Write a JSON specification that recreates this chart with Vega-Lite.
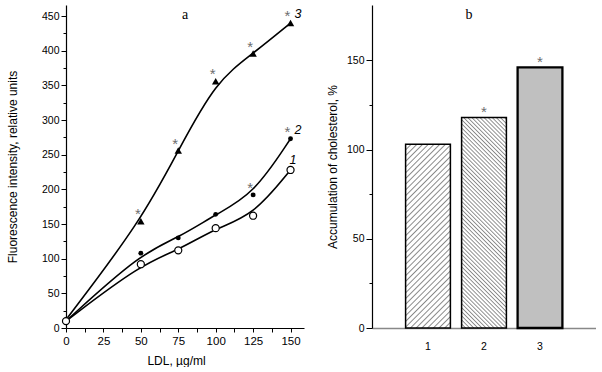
{
  "$schema": "https://vega.github.io/schema/vega-lite/v6.json",
  "autosize": {"type": "pad"},
  "padding": {"left": 6, "top": 5, "right": 0, "bottom": 0},
  "background": "white",
  "config": {
    "view": {"stroke": null},
    "font": "Liberation Sans",
    "axis": {"labelFont": "Liberation Sans", "titleFont": "Liberation Sans", "labelColor": "black", "titleColor": "black", "domainColor": "black", "tickColor": "black", "titleFontWeight": "normal", "titleFontSize": 12, "labelFontSize": 10.5, "grid": false, "domainWidth": 1.2, "tickWidth": 1},
    "title": {"font": "Liberation Serif", "fontSize": 14, "fontWeight": "normal", "color": "black"}
  },
  "datasets": {
    "curves": [
      {"s": "3", "x": 0, "y": 12, "sig": 0},
      {"s": "3", "x": 50, "y": 154, "sig": 1},
      {"s": "3", "x": 75, "y": 256, "sig": 1},
      {"s": "3", "x": 100, "y": 356, "sig": 1},
      {"s": "3", "x": 125, "y": 396, "sig": 1},
      {"s": "3", "x": 150, "y": 440, "sig": 1, "lab": "3"},
      {"s": "2", "x": 0, "y": 10, "sig": 0},
      {"s": "2", "x": 50, "y": 108, "sig": 0},
      {"s": "2", "x": 75, "y": 130, "sig": 0},
      {"s": "2", "x": 100, "y": 164, "sig": 0},
      {"s": "2", "x": 125, "y": 192, "sig": 1},
      {"s": "2", "x": 150, "y": 273, "sig": 1, "lab": "2"},
      {"s": "1", "x": 0, "y": 10, "sig": 0},
      {"s": "1", "x": 50, "y": 92, "sig": 0},
      {"s": "1", "x": 75, "y": 112, "sig": 0},
      {"s": "1", "x": 100, "y": 144, "sig": 0},
      {"s": "1", "x": 125, "y": 162, "sig": 0},
      {"s": "1", "x": 150, "y": 228, "sig": 0, "lab": "1"}
    ],
    "bars": [
      {"g": "1", "v": 103, "sig": 0},
      {"g": "2", "v": 118, "sig": 1},
      {"g": "3", "v": 146, "sig": 1}
    ]
  },
  "bounds": "flush",
  "spacing": 68,
  "hconcat": [
    {
      "width": 238,
      "height": 323,
      "title": {"text": "a", "offset": -17, "frame": "group", "anchor": "middle"},
      "data": {"name": "curves"},
      "encoding": {
        "x": {"field": "x", "type": "quantitative", "scale": {"domain": [0, 159], "nice": false},
          "axis": {"values": [0, 12.5, 25, 37.5, 50, 62.5, 75, 87.5, 100, 112.5, 125, 137.5, 150], "labelExpr": "datum.value % 25 === 0 ? datum.label : ''", "title": "LDL, µg/ml", "titleX": 110, "titlePadding": 9, "labelFontSize": 11.5, "tickSize": 4, "labelPadding": 3, "labelFlush": false, "labelOverlap": false}},
        "y": {"field": "y", "type": "quantitative", "scale": {"domain": [0, 466], "nice": false},
          "axis": {"values": [0, 25, 50, 75, 100, 125, 150, 175, 200, 225, 250, 275, 300, 325, 350, 375, 400, 425, 450], "labelExpr": "datum.value % 50 === 0 ? datum.label : ''", "tickSize": {"condition": {"test": "datum.value % 50 === 0", "value": 5}, "value": 3}, "labelPadding": 2, "title": "Fluorescence intensity, relative units", "titlePadding": 22, "labelOverlap": false, "labelFlush": false}}
      },
      "layer": [
        {"mark": {"type": "line", "interpolate": "basis", "color": "black", "strokeWidth": 1.6}, "encoding": {"detail": {"field": "s"}}},
        {"transform": [{"filter": "datum.s === '3'"}], "mark": {"type": "point", "shape": "triangle-up", "filled": true, "color": "black", "size": 55, "opacity": 1}},
        {"transform": [{"filter": "datum.s === '2'"}], "mark": {"type": "circle", "color": "black", "size": 24, "opacity": 1}},
        {"transform": [{"filter": "datum.s === '1'"}], "mark": {"type": "point", "shape": "circle", "filled": true, "fill": "white", "stroke": "black", "strokeWidth": 1.2, "size": 50, "opacity": 1}},
        {"transform": [{"filter": "datum.sig === 1"}], "mark": {"type": "text", "text": "*", "color": "#6e6e6e", "fontSize": 15, "baseline": "alphabetic", "dx": -3, "dy": -2}},
        {"transform": [{"filter": "datum.lab === '2' || datum.lab === '3'"}], "mark": {"type": "text", "fontStyle": "italic", "fontSize": 12.5, "align": "left", "baseline": "alphabetic", "dx": 4, "dy": -5, "color": "black"}, "encoding": {"text": {"field": "lab"}}},
        {"transform": [{"filter": "datum.lab === '1'"}], "mark": {"type": "text", "fontStyle": "italic", "fontSize": 12.5, "align": "left", "baseline": "alphabetic", "dx": -1, "dy": -6, "color": "black"}, "encoding": {"text": {"field": "lab"}}}
      ]
    },
    {
      "width": 224,
      "height": 323,
      "title": {"text": "b", "offset": -17, "frame": "group", "anchor": "middle", "dx": -15},
      "data": {"name": "bars"},
      "encoding": {
        "x": {"field": "g", "type": "nominal", "scale": {"domain": ["1", "2", "3"], "paddingInner": 0.2, "paddingOuter": 0.6},
          "axis": {"title": null, "labelAngle": 0, "ticks": false, "tickSize": 0, "labelPadding": 13, "domainColor": "#888", "domainWidth": 1.6, "labelFontSize": 10.5}},
        "y": {"field": "v", "type": "quantitative", "scale": {"domain": [0, 181], "nice": false},
          "axis": {"values": [0, 25, 50, 75, 100, 125, 150], "labelExpr": "datum.value % 50 === 0 ? datum.label : ''", "tickSize": {"condition": {"test": "datum.value % 50 === 0", "value": 6}, "value": 3}, "labelPadding": 2, "title": "Accumulation of cholesterol, %", "titlePadding": 7, "labelOverlap": false}}
      },
      "layer": [
        {"transform": [{"filter": "datum.g === '1'"}], "mark": {"type": "bar", "stroke": "black", "strokeWidth": 1.5, "fill": {"gradient": "linear", "x1": 0, "y1": 0, "x2": 0.2862, "y2": 1.1743, "stops": [
          {"offset": 0, "color": "#888"}, {"offset": 0.006, "color": "#fff"}, {"offset": 0.019, "color": "#fff"},
          {"offset": 0.025, "color": "#888"}, {"offset": 0.031, "color": "#fff"}, {"offset": 0.044, "color": "#fff"},
          {"offset": 0.05, "color": "#888"}, {"offset": 0.056, "color": "#fff"}, {"offset": 0.069, "color": "#fff"},
          {"offset": 0.075, "color": "#888"}, {"offset": 0.081, "color": "#fff"}, {"offset": 0.094, "color": "#fff"},
          {"offset": 0.1, "color": "#888"}, {"offset": 0.106, "color": "#fff"}, {"offset": 0.119, "color": "#fff"},
          {"offset": 0.125, "color": "#888"}, {"offset": 0.131, "color": "#fff"}, {"offset": 0.144, "color": "#fff"},
          {"offset": 0.15, "color": "#888"}, {"offset": 0.156, "color": "#fff"}, {"offset": 0.169, "color": "#fff"},
          {"offset": 0.175, "color": "#888"}, {"offset": 0.181, "color": "#fff"}, {"offset": 0.194, "color": "#fff"},
          {"offset": 0.2, "color": "#888"}, {"offset": 0.206, "color": "#fff"}, {"offset": 0.219, "color": "#fff"},
          {"offset": 0.225, "color": "#888"}, {"offset": 0.231, "color": "#fff"}, {"offset": 0.244, "color": "#fff"},
          {"offset": 0.25, "color": "#888"}, {"offset": 0.256, "color": "#fff"}, {"offset": 0.269, "color": "#fff"},
          {"offset": 0.275, "color": "#888"}, {"offset": 0.281, "color": "#fff"}, {"offset": 0.294, "color": "#fff"},
          {"offset": 0.3, "color": "#888"}, {"offset": 0.306, "color": "#fff"}, {"offset": 0.319, "color": "#fff"},
          {"offset": 0.325, "color": "#888"}, {"offset": 0.331, "color": "#fff"}, {"offset": 0.344, "color": "#fff"},
          {"offset": 0.35, "color": "#888"}, {"offset": 0.356, "color": "#fff"}, {"offset": 0.369, "color": "#fff"},
          {"offset": 0.375, "color": "#888"}, {"offset": 0.381, "color": "#fff"}, {"offset": 0.394, "color": "#fff"},
          {"offset": 0.4, "color": "#888"}, {"offset": 0.406, "color": "#fff"}, {"offset": 0.419, "color": "#fff"},
          {"offset": 0.425, "color": "#888"}, {"offset": 0.431, "color": "#fff"}, {"offset": 0.444, "color": "#fff"},
          {"offset": 0.45, "color": "#888"}, {"offset": 0.456, "color": "#fff"}, {"offset": 0.469, "color": "#fff"},
          {"offset": 0.475, "color": "#888"}, {"offset": 0.481, "color": "#fff"}, {"offset": 0.494, "color": "#fff"},
          {"offset": 0.5, "color": "#888"}, {"offset": 0.506, "color": "#fff"}, {"offset": 0.519, "color": "#fff"},
          {"offset": 0.525, "color": "#888"}, {"offset": 0.531, "color": "#fff"}, {"offset": 0.544, "color": "#fff"},
          {"offset": 0.55, "color": "#888"}, {"offset": 0.556, "color": "#fff"}, {"offset": 0.569, "color": "#fff"},
          {"offset": 0.575, "color": "#888"}, {"offset": 0.581, "color": "#fff"}, {"offset": 0.594, "color": "#fff"},
          {"offset": 0.6, "color": "#888"}, {"offset": 0.606, "color": "#fff"}, {"offset": 0.619, "color": "#fff"},
          {"offset": 0.625, "color": "#888"}, {"offset": 0.631, "color": "#fff"}, {"offset": 0.644, "color": "#fff"},
          {"offset": 0.65, "color": "#888"}, {"offset": 0.656, "color": "#fff"}, {"offset": 0.669, "color": "#fff"},
          {"offset": 0.675, "color": "#888"}, {"offset": 0.681, "color": "#fff"}, {"offset": 0.694, "color": "#fff"},
          {"offset": 0.7, "color": "#888"}, {"offset": 0.706, "color": "#fff"}, {"offset": 0.719, "color": "#fff"},
          {"offset": 0.725, "color": "#888"}, {"offset": 0.731, "color": "#fff"}, {"offset": 0.744, "color": "#fff"},
          {"offset": 0.75, "color": "#888"}, {"offset": 0.756, "color": "#fff"}, {"offset": 0.769, "color": "#fff"},
          {"offset": 0.775, "color": "#888"}, {"offset": 0.781, "color": "#fff"}, {"offset": 0.794, "color": "#fff"},
          {"offset": 0.8, "color": "#888"}, {"offset": 0.806, "color": "#fff"}, {"offset": 0.819, "color": "#fff"},
          {"offset": 0.825, "color": "#888"}, {"offset": 0.831, "color": "#fff"}, {"offset": 0.844, "color": "#fff"},
          {"offset": 0.85, "color": "#888"}, {"offset": 0.856, "color": "#fff"}, {"offset": 0.869, "color": "#fff"},
          {"offset": 0.875, "color": "#888"}, {"offset": 0.881, "color": "#fff"}, {"offset": 0.894, "color": "#fff"},
          {"offset": 0.9, "color": "#888"}, {"offset": 0.906, "color": "#fff"}, {"offset": 0.919, "color": "#fff"},
          {"offset": 0.925, "color": "#888"}, {"offset": 0.931, "color": "#fff"}, {"offset": 0.944, "color": "#fff"},
          {"offset": 0.95, "color": "#888"}, {"offset": 0.956, "color": "#fff"}, {"offset": 0.969, "color": "#fff"},
          {"offset": 0.975, "color": "#888"}, {"offset": 0.981, "color": "#fff"}, {"offset": 0.994, "color": "#fff"},
          {"offset": 1, "color": "#888"}
        ]}}},
        {"transform": [{"filter": "datum.g === '2'"}], "mark": {"type": "bar", "stroke": "black", "strokeWidth": 1.5, "fill": {"gradient": "linear", "x1": 0, "y1": 1, "x2": 0.2468, "y2": -0.1602, "stops": [
          {"offset": 0, "color": "#888"}, {"offset": 0.005, "color": "#fff"}, {"offset": 0.011, "color": "#fff"},
          {"offset": 0.016, "color": "#888"}, {"offset": 0.021, "color": "#fff"}, {"offset": 0.027, "color": "#fff"},
          {"offset": 0.032, "color": "#888"}, {"offset": 0.037, "color": "#fff"}, {"offset": 0.043, "color": "#fff"},
          {"offset": 0.048, "color": "#888"}, {"offset": 0.053, "color": "#fff"}, {"offset": 0.059, "color": "#fff"},
          {"offset": 0.064, "color": "#888"}, {"offset": 0.069, "color": "#fff"}, {"offset": 0.075, "color": "#fff"},
          {"offset": 0.08, "color": "#888"}, {"offset": 0.085, "color": "#fff"}, {"offset": 0.091, "color": "#fff"},
          {"offset": 0.096, "color": "#888"}, {"offset": 0.101, "color": "#fff"}, {"offset": 0.107, "color": "#fff"},
          {"offset": 0.112, "color": "#888"}, {"offset": 0.117, "color": "#fff"}, {"offset": 0.123, "color": "#fff"},
          {"offset": 0.128, "color": "#888"}, {"offset": 0.133, "color": "#fff"}, {"offset": 0.139, "color": "#fff"},
          {"offset": 0.144, "color": "#888"}, {"offset": 0.149, "color": "#fff"}, {"offset": 0.155, "color": "#fff"},
          {"offset": 0.16, "color": "#888"}, {"offset": 0.165, "color": "#fff"}, {"offset": 0.171, "color": "#fff"},
          {"offset": 0.176, "color": "#888"}, {"offset": 0.181, "color": "#fff"}, {"offset": 0.187, "color": "#fff"},
          {"offset": 0.192, "color": "#888"}, {"offset": 0.197, "color": "#fff"}, {"offset": 0.203, "color": "#fff"},
          {"offset": 0.208, "color": "#888"}, {"offset": 0.213, "color": "#fff"}, {"offset": 0.219, "color": "#fff"},
          {"offset": 0.224, "color": "#888"}, {"offset": 0.229, "color": "#fff"}, {"offset": 0.235, "color": "#fff"},
          {"offset": 0.24, "color": "#888"}, {"offset": 0.245, "color": "#fff"}, {"offset": 0.251, "color": "#fff"},
          {"offset": 0.256, "color": "#888"}, {"offset": 0.261, "color": "#fff"}, {"offset": 0.267, "color": "#fff"},
          {"offset": 0.272, "color": "#888"}, {"offset": 0.277, "color": "#fff"}, {"offset": 0.283, "color": "#fff"},
          {"offset": 0.288, "color": "#888"}, {"offset": 0.293, "color": "#fff"}, {"offset": 0.299, "color": "#fff"},
          {"offset": 0.304, "color": "#888"}, {"offset": 0.309, "color": "#fff"}, {"offset": 0.315, "color": "#fff"},
          {"offset": 0.32, "color": "#888"}, {"offset": 0.325, "color": "#fff"}, {"offset": 0.331, "color": "#fff"},
          {"offset": 0.336, "color": "#888"}, {"offset": 0.341, "color": "#fff"}, {"offset": 0.347, "color": "#fff"},
          {"offset": 0.352, "color": "#888"}, {"offset": 0.357, "color": "#fff"}, {"offset": 0.363, "color": "#fff"},
          {"offset": 0.368, "color": "#888"}, {"offset": 0.373, "color": "#fff"}, {"offset": 0.379, "color": "#fff"},
          {"offset": 0.384, "color": "#888"}, {"offset": 0.389, "color": "#fff"}, {"offset": 0.395, "color": "#fff"},
          {"offset": 0.4, "color": "#888"}, {"offset": 0.405, "color": "#fff"}, {"offset": 0.411, "color": "#fff"},
          {"offset": 0.416, "color": "#888"}, {"offset": 0.421, "color": "#fff"}, {"offset": 0.427, "color": "#fff"},
          {"offset": 0.432, "color": "#888"}, {"offset": 0.437, "color": "#fff"}, {"offset": 0.443, "color": "#fff"},
          {"offset": 0.448, "color": "#888"}, {"offset": 0.453, "color": "#fff"}, {"offset": 0.459, "color": "#fff"},
          {"offset": 0.464, "color": "#888"}, {"offset": 0.469, "color": "#fff"}, {"offset": 0.475, "color": "#fff"},
          {"offset": 0.48, "color": "#888"}, {"offset": 0.485, "color": "#fff"}, {"offset": 0.491, "color": "#fff"},
          {"offset": 0.496, "color": "#888"}, {"offset": 0.501, "color": "#fff"}, {"offset": 0.507, "color": "#fff"},
          {"offset": 0.512, "color": "#888"}, {"offset": 0.517, "color": "#fff"}, {"offset": 0.523, "color": "#fff"},
          {"offset": 0.528, "color": "#888"}, {"offset": 0.533, "color": "#fff"}, {"offset": 0.539, "color": "#fff"},
          {"offset": 0.544, "color": "#888"}, {"offset": 0.549, "color": "#fff"}, {"offset": 0.555, "color": "#fff"},
          {"offset": 0.56, "color": "#888"}, {"offset": 0.565, "color": "#fff"}, {"offset": 0.571, "color": "#fff"},
          {"offset": 0.576, "color": "#888"}, {"offset": 0.581, "color": "#fff"}, {"offset": 0.587, "color": "#fff"},
          {"offset": 0.592, "color": "#888"}, {"offset": 0.597, "color": "#fff"}, {"offset": 0.603, "color": "#fff"},
          {"offset": 0.608, "color": "#888"}, {"offset": 0.613, "color": "#fff"}, {"offset": 0.619, "color": "#fff"},
          {"offset": 0.624, "color": "#888"}, {"offset": 0.629, "color": "#fff"}, {"offset": 0.635, "color": "#fff"},
          {"offset": 0.64, "color": "#888"}, {"offset": 0.645, "color": "#fff"}, {"offset": 0.651, "color": "#fff"},
          {"offset": 0.656, "color": "#888"}, {"offset": 0.661, "color": "#fff"}, {"offset": 0.667, "color": "#fff"},
          {"offset": 0.672, "color": "#888"}, {"offset": 0.677, "color": "#fff"}, {"offset": 0.683, "color": "#fff"},
          {"offset": 0.688, "color": "#888"}, {"offset": 0.693, "color": "#fff"}, {"offset": 0.699, "color": "#fff"},
          {"offset": 0.704, "color": "#888"}, {"offset": 0.709, "color": "#fff"}, {"offset": 0.715, "color": "#fff"},
          {"offset": 0.72, "color": "#888"}, {"offset": 0.725, "color": "#fff"}, {"offset": 0.731, "color": "#fff"},
          {"offset": 0.736, "color": "#888"}, {"offset": 0.741, "color": "#fff"}, {"offset": 0.747, "color": "#fff"},
          {"offset": 0.752, "color": "#888"}, {"offset": 0.757, "color": "#fff"}, {"offset": 0.763, "color": "#fff"},
          {"offset": 0.768, "color": "#888"}, {"offset": 0.773, "color": "#fff"}, {"offset": 0.779, "color": "#fff"},
          {"offset": 0.784, "color": "#888"}, {"offset": 0.789, "color": "#fff"}, {"offset": 0.795, "color": "#fff"},
          {"offset": 0.8, "color": "#888"}, {"offset": 0.805, "color": "#fff"}, {"offset": 0.811, "color": "#fff"},
          {"offset": 0.816, "color": "#888"}, {"offset": 0.821, "color": "#fff"}, {"offset": 0.827, "color": "#fff"},
          {"offset": 0.832, "color": "#888"}, {"offset": 0.837, "color": "#fff"}, {"offset": 0.843, "color": "#fff"},
          {"offset": 0.848, "color": "#888"}, {"offset": 0.853, "color": "#fff"}, {"offset": 0.859, "color": "#fff"},
          {"offset": 0.864, "color": "#888"}, {"offset": 0.869, "color": "#fff"}, {"offset": 0.875, "color": "#fff"},
          {"offset": 0.88, "color": "#888"}, {"offset": 0.885, "color": "#fff"}, {"offset": 0.891, "color": "#fff"},
          {"offset": 0.896, "color": "#888"}, {"offset": 0.901, "color": "#fff"}, {"offset": 0.907, "color": "#fff"},
          {"offset": 0.912, "color": "#888"}, {"offset": 0.917, "color": "#fff"}, {"offset": 0.923, "color": "#fff"},
          {"offset": 0.928, "color": "#888"}, {"offset": 0.933, "color": "#fff"}, {"offset": 0.939, "color": "#fff"},
          {"offset": 0.944, "color": "#888"}, {"offset": 0.949, "color": "#fff"}, {"offset": 0.955, "color": "#fff"},
          {"offset": 0.96, "color": "#888"}, {"offset": 0.965, "color": "#fff"}, {"offset": 0.971, "color": "#fff"},
          {"offset": 0.976, "color": "#888"}, {"offset": 0.981, "color": "#fff"}, {"offset": 0.987, "color": "#fff"},
          {"offset": 0.992, "color": "#888"}, {"offset": 0.997, "color": "#fff"}, {"offset": 1, "color": "#fff"}
        ]}}},
        {"transform": [{"filter": "datum.g === '3'"}], "mark": {"type": "bar", "stroke": "black", "strokeWidth": 2.3, "fill": "#c0c0c0"}},
        {"transform": [{"filter": "datum.sig === 1"}], "mark": {"type": "text", "text": "*", "color": "#6e6e6e", "fontSize": 15, "baseline": "alphabetic", "dy": 0}}
      ]
    }
  ]
}
